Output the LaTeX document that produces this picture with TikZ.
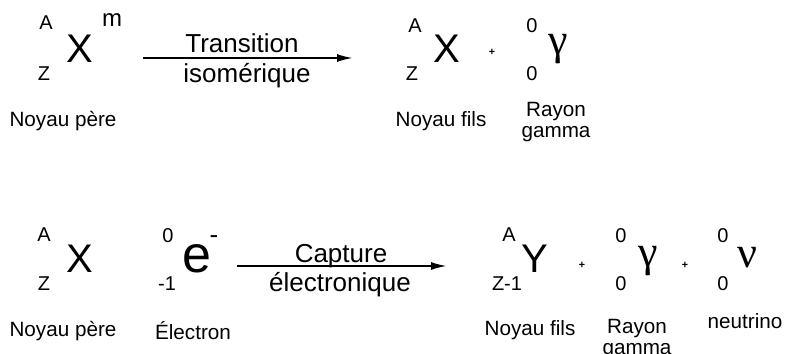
\documentclass[tikz,border=0pt]{standalone}
\usepackage{fontspec}
\setmainfont{Liberation Sans}
\newfontfamily\greekfont{Liberation Serif}
\usetikzlibrary{arrows.meta}
\begin{document}
\begin{tikzpicture}[x=0.75pt,y=-0.75pt,
  every node/.style={inner sep=0pt,outer sep=0pt,anchor=base},
  big/.style={font=\fontsize{30}{32}\selectfont},
  ebig/.style={font=\fontsize{39}{40}\selectfont},
  grk/.style={font=\greekfont\fontsize{33}{34}\selectfont},
  scr/.style={font=\fontsize{15}{15}\selectfont},
  sup/.style={font=\fontsize{18}{18}\selectfont},
  lbl/.style={font=\fontsize{19.5}{21}\selectfont},
  captxt/.style={font=\fontsize{15.5}{16}\selectfont},
  plus/.style={font=\bfseries\fontsize{8}{8}\selectfont,anchor=center},
  arr/.style={line width=1.5pt,-{Latex[length=12pt,width=6pt]}}]
\useasboundingbox (0,0) rectangle (787,353);
% ---- top row
\node[scr] (a1) at (46,30) {A};
\node[scr] (z1) at (44,80) {Z};
\node[big] (x1) at (80,62) {X};
\node[sup] (m1) at (112,27) {m};
\coordinate (s1) at (143,58);
\coordinate (e1) at (353,58);
\draw[arr] (s1) -- (e1);
\node[lbl] (t1) at (242,53) {Transition};
\node[lbl] (t2) at (247,82) {isomérique};
\node[scr] (a2) at (415,33) {A};
\node[scr] (z2) at (412,80) {Z};
\node[big] (x2) at (447,62) {X};
\node[plus] (p1) at (492,52) {+};
\node[scr] (g1a) at (532,33) {0};
\node[scr] (g1b) at (532,80) {0};
\node[grk] (g1) at (558,55) {γ};
\node[captxt,anchor=center] (n1) at (63,121) {Noyau père};
\node[captxt,anchor=center] (n2) at (441,121) {Noyau fils};
\node[captxt,align=center,anchor=center] (r1) at (556,122) {Rayon\\gamma};
% ---- bottom row
\node[scr] (a3) at (44,241) {A};
\node[scr] (z3) at (44,290) {Z};
\node[big] (x3) at (80,272) {X};
\node[scr] (e0) at (168,242) {0};
\node[scr] (em) at (167,290) {-1};
\node[ebig] (el) at (197,272) {e};
\node[lbl,anchor=center] (mi) at (214,240) {-};
\coordinate (s2) at (237,266);
\coordinate (e2) at (447,266);
\draw[arr] (s2) -- (e2);
\node[lbl] (t3) at (341,262) {Capture};
\node[lbl] (t4) at (340,291) {électronique};
\node[captxt,anchor=center] (n3) at (63,331) {Noyau père};
\node[captxt,anchor=center] (n4) at (193,331) {Électron};
\node[scr] (a4) at (509,241) {A};
\node[scr] (z4) at (507,290) {Z-1};
\node[big] (y4) at (535,272) {Y};
\node[plus] (p2) at (582,265) {+};
\node[scr] (g2a) at (621,242) {0};
\node[scr] (g2b) at (621,290) {0};
\node[grk] (g2) at (648,266) {γ};
\node[plus] (p3) at (685,265) {+};
\node[scr] (v0) at (723,242) {0};
\node[scr] (v1) at (723,290) {0};
\node[grk] (nu) at (747,267) {ν};
\node[captxt,anchor=center] (n5) at (530,330) {Noyau fils};
\node[captxt,align=center,anchor=center] (r2) at (637,339) {Rayon\\gamma};
\node[captxt,anchor=center] (n6) at (745,321) {neutrino};
\end{tikzpicture}
\end{document}
